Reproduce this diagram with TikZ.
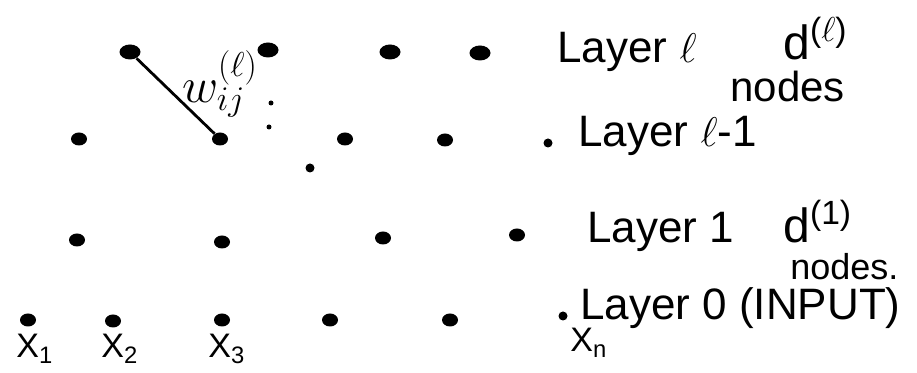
\documentclass[tikz,border=0pt]{standalone}
\usepackage{fontspec}
\setmainfont{Liberation Sans}
\usetikzlibrary{shapes.geometric}

\begin{document}
\begin{tikzpicture}[x=0.5pt, y=-0.5pt,
    bigdot/.style={ellipse, fill=black, inner sep=0pt, minimum width=10.5pt, minimum height=7.5pt},
    dot/.style={ellipse, fill=black, inner sep=0pt, minimum width=8pt, minimum height=6.5pt},
    smalldot/.style={circle, fill=black, inner sep=0pt, minimum size=4.5pt},
    vdot/.style={circle, fill=black, inner sep=0pt, minimum size=2.5pt},
    edge/.style={line width=1.4pt},
    layer/.style={anchor=base west, font=\fontsize{22}{26}\selectfont, inner sep=0pt},
    count/.style={anchor=base west, font=\fontsize{24}{28}\selectfont, inner sep=0pt},
    note/.style={anchor=base west, font=\fontsize{18}{21}\selectfont, inner sep=0pt},
    xlab/.style={anchor=base west, font=\fontsize{17}{20}\selectfont, inner sep=0pt}]

    \useasboundingbox (0,0) rectangle (917,373);

    % Layer l
    \foreach \x/\y [count=\i] in {130/52, 268/50, 390/52, 480/53} {
        \node[bigdot] (top\i) at (\x,\y) {};
    }
    \node[layer] (toplab) at (557,63) {Layer $\ell$};
    \node[count] (dtop) at (783,60) {d\textsuperscript{($\ell$)}};
    \node[note, font=\fontsize{21}{24}\selectfont] (ntop) at (730,102) {nodes};

    % Layer l-1
    \foreach \x/\y [count=\i] in {79/139, 220/139, 345/139, 445/140} {
        \node[dot] (mid\i) at (\x,\y) {};
    }
    \node[smalldot] (mid5) at (548,143) {};
    \node[layer] (midlab) at (578,147) {Layer $\ell$-1};

    % layers in between
    \node[vdot] (gap1) at (271,103) {};
    \node[vdot] (gap2) at (269,127) {};
    \node[smalldot] (gap3) at (310,168) {};

    % weight
    \draw[edge] (top1) -- (mid2);
    \node[font=\fontsize{23}{26}\selectfont] (wlab) at (220,84) {$w_{ij}^{(\ell)}$};

    % Layer 1
    \foreach \x/\y [count=\i] in {77/240, 222/242, 383/238, 517/235} {
        \node[dot] (one\i) at (\x,\y) {};
    }
    \node[layer] (onelab) at (587,243) {Layer 1};
    \node[count] (done) at (783,243) {d\textsuperscript{(1)}};
    \node[note] (none) at (790,280) {nodes.};

    % Layer 0 (input)
    \foreach \x/\y [count=\i] in {28/320, 113/321, 222/320, 330/320, 450/320} {
        \node[dot] (in\i) at (\x,\y) {};
    }
    \node[smalldot] (in6) at (563,316) {};
    \node[layer] (inlab) at (580,320) {Layer 0 (INPUT)};

    \node[xlab] (x1) at (16,358) {X\textsubscript{1}};
    \node[xlab] (x2) at (101,358) {X\textsubscript{2}};
    \node[xlab] (x3) at (208,358) {X\textsubscript{3}};
    \node[xlab] (xn) at (570,352) {X\textsubscript{n}};
\end{tikzpicture}
\end{document}
